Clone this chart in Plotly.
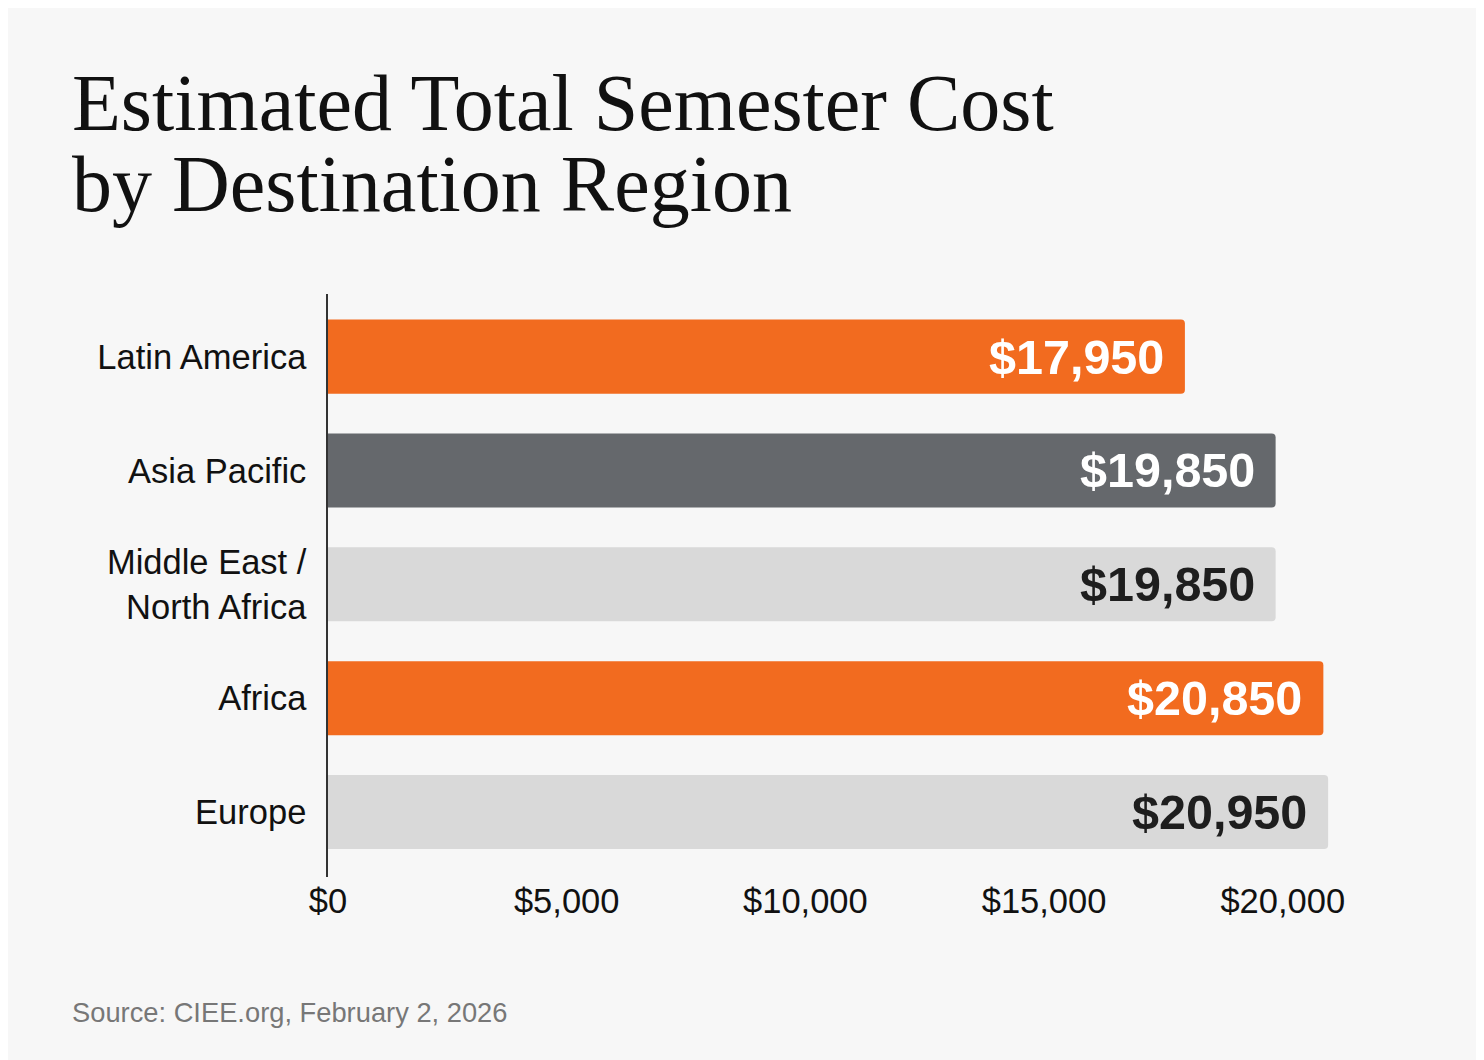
import plotly.graph_objects as go

categories = ["Latin America", "Asia Pacific", "Middle East /<br>North Africa", "Africa", "Europe"]
costs = [17950, 19850, 19850, 20850, 20950]
bar_colors = ["#F26B1F", "#65686C", "#D9D9D9", "#F26B1F", "#D9D9D9"]
label_colors = ["#FFFFFF", "#FFFFFF", "#1E1E1E", "#FFFFFF", "#1E1E1E"]
tick_vals = [0, 5000, 10000, 15000, 20000]
tick_text = ["$0", "$5,000", "$10,000", "$15,000", "$20,000"]

fig = go.Figure()
fig.add_trace(go.Bar(
    x=costs, y=categories, orientation="h",
    marker=dict(color=bar_colors, line=dict(width=0)),
    hoverinfo="skip",
))

for c, v, col in zip(categories, costs, label_colors):
    fig.add_annotation(
        x=v, y=c, xref="x", yref="y", text="$" + f"{v:,}",
        showarrow=False, xanchor="right", yanchor="middle", xshift=-19,
        font=dict(family="Liberation Sans", size=48.5, color=col, weight="bold"),
    )

fig.add_annotation(text="Estimated Total Semester Cost", xref="paper", yref="paper",
                   x=-0.252, y=1.3277, xanchor="left", yanchor="middle", showarrow=False,
                   font=dict(family="Liberation Serif", size=80, color="#111111"))
fig.add_annotation(text="by Destination Region", xref="paper", yref="paper",
                   x=-0.252, y=1.1887, xanchor="left", yanchor="middle", showarrow=False,
                   font=dict(family="Liberation Serif", size=80, color="#111111"))
fig.add_annotation(text="Source: CIEE.org, February 2, 2026", xref="paper", yref="paper",
                   x=-0.252, y=-0.2316, xanchor="left", yanchor="middle", showarrow=False,
                   font=dict(family="Liberation Sans", size=27.3, color="#777777"))

fig.update_layout(
    width=1484, height=1060,
    margin=dict(l=320, r=140, t=286, b=191),
    paper_bgcolor="#F7F7F7", plot_bgcolor="#F7F7F7",
    bargap=0.35, barcornerradius=4,
    showlegend=False,
    font=dict(family="Liberation Sans", color="#111111"),
    xaxis=dict(range=[0, 21450], tickvals=tick_vals, ticktext=tick_text,
               showgrid=False, zeroline=False, showline=False,
               tickfont=dict(size=34.5, color="#111111"), fixedrange=True),
    yaxis=dict(range=[4.57, -0.55], showgrid=False, zeroline=False,
               showline=True, linecolor="#333333", linewidth=1.5,
               tickfont=dict(size=34.5, color="#111111"), ticklabelstandoff=13,
               fixedrange=True),
)

fig.write_html("out.html")
